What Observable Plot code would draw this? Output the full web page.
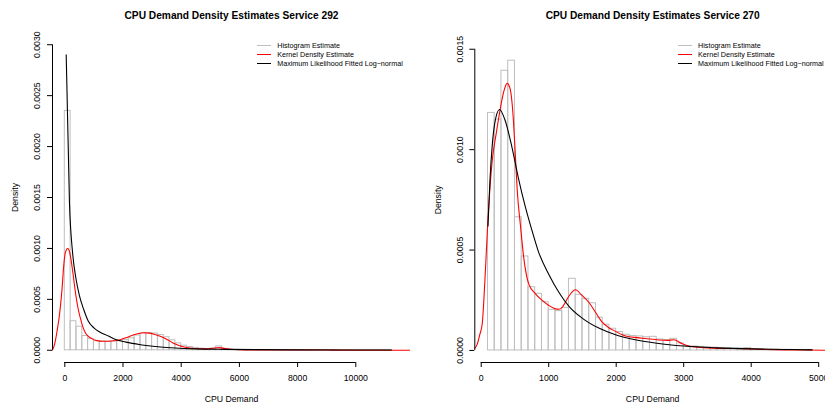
<!DOCTYPE html>
<html><head><meta charset="utf-8">
<script src="https://cdn.jsdelivr.net/npm/d3@7"></script>
<script src="https://cdn.jsdelivr.net/npm/@observablehq/plot@0.6"></script>
<style>
html,body{margin:0;padding:0;background:#fff;overflow:hidden;}
#wrap{position:relative;width:825px;height:405px;overflow:hidden;font-family:"Liberation Sans",Arial,Helvetica,sans-serif;}
.panel{position:absolute;top:0;}
.panel svg{max-width:none !important;}
.legend{position:absolute;font-size:7.2px;color:#000;white-space:nowrap;}
.legend .row{display:flex;align-items:center;height:9px;}
.legend .sw{display:inline-block;width:14px;height:0;border-top:1px solid;margin-right:6.5px;}
</style></head><body><div id="wrap"></div>
<script>
// ---------- Legend ----------
const legendLabels = ["Histogram Estimate", "Kernel Density Estimate", "Maximum Likelihood Fitted Log\u2212normal"];
const legendColors = ["#bebebe", "#ff0000", "#000000"];

// ---------- Service 292 (left) ----------
const title292 = "CPU Demand Density Estimates Service 292";
const hist292Start = 0;
const hist292Width = 200;
const hist292Density = [
  0.00235, 0.000285, 0.000232, 0.000140, 0.000112, 0.000092, 0.000086, 0.000084, 0.000086, 0.000090,
  0.000100, 0.000118, 0.000145, 0.000165, 0.000170, 0.000165, 0.000150, 0.000128, 0.000098, 0.000068,
  0.000045, 0.000032, 0.000024, 0.000016, 0.000012, 0.000018, 0.000038, 0.000014, 0.000006, 0.000004,
  0.000003, 0.000003, 0.000003, 0.000002, 0.000002, 0.000003, 0.000002, 0.000002, 0.000002, 0.000001,
  0.000002, 0.000001, 0.000001, 0.000002, 0.000001, 0.000001, 0.000001, 0.000001, 0.000002, 0.000001,
  0.000001, 0.000001, 0.000001, 0.000001, 0.000001, 0.000001
];
const kde292X = [-430, -370, -320, -260, -200, -140, -90, -40, 20, 100, 170, 250, 370, 450, 540, 620, 710, 800, 940, 1100,
  1300, 1500, 1700, 1900, 2100, 2300, 2500, 2700, 2900, 3100, 3300, 3500, 3700, 3900, 4100, 4300, 4600, 4900, 5100, 5300,
  5500, 5800, 6200, 7000, 8000, 9000, 10000, 11000, 11900];
const kde292Y = [0, 0.00004, 0.0001, 0.0002, 0.00031, 0.00046, 0.00062, 0.00082, 0.00096, 0.001, 0.00096, 0.00082, 0.00056, 0.00042, 0.00031, 0.00023, 0.00017, 0.00014, 0.000112, 0.000095,
  0.000088, 0.000089, 0.000094, 0.000104, 0.000122, 0.000145, 0.000162, 0.000172, 0.000168, 0.000155, 0.000135, 0.000108, 0.000075, 0.00005, 0.000032, 0.000022, 0.000015, 0.000014, 0.00002, 0.000026,
  0.000018, 0.000007, 0.000003, 0.000002, 0.000002, 0.000002, 0.000001, 0.000001, 0.0000005];
const ln292X = [48, 160, 270, 380, 500, 650, 800, 1000, 1200, 1500, 1700, 2100, 2600, 3200, 3800, 4500, 5500, 6500, 8000, 9500, 11230];
const ln292Y = [0.0029, 0.00145, 0.00095, 0.00071, 0.00054, 0.0004, 0.00029, 0.00022, 0.00018, 0.00014, 0.00011, 0.00008, 0.000055, 0.000035, 0.000022, 0.000014, 0.000009, 0.000006, 0.000004, 0.000003, 0.000002];
const xTicks292 = [0, 2000, 4000, 6000, 8000, 10000];
const yTicks292 = [0, 0.0005, 0.001, 0.0015, 0.002, 0.0025, 0.003];

// ---------- Service 270 (right) ----------
const title270 = "CPU Demand Density Estimates Service 270";
const hist270Start = 100;
const hist270Width = 100;
const hist270Density = [
  0.001183, 0.00115, 0.001393, 0.001443, 0.000663, 0.000468, 0.000315, 0.000282, 0.00024, 0.000202,
  0.000196, 0.000212, 0.000357, 0.000277, 0.000257, 0.000235, 0.000163, 0.000128, 0.000108, 0.000092,
  0.000078, 0.000072, 0.00007, 0.000066, 0.000068, 0.000055, 0.000052, 0.000058, 0.000035, 0.000022,
  0.00002, 0.000018, 0.000016, 0.000014, 0.000012, 0.000012, 0.00001, 0.00001, 0.000012, 0.000006,
  0.000005, 0.000004, 0.000004, 0.000003, 0.000003, 0.000002, 0.000002, 0.000002
];
const kde270X = [-95, -60, -20, 15, 55, 98, 163, 222, 286, 335, 385, 430, 470, 500, 533, 582, 631, 705, 804, 904,
  1002, 1101, 1150, 1200, 1298, 1397, 1492, 1594, 1693, 1793, 1891, 1990, 2089, 2188, 2311, 2459, 2607, 2756, 2854, 2978,
  3101, 3300, 3600, 3900, 4200, 4500, 4800, 5200];
const kde270Y = [0.00001, 0.00003, 0.00008, 0.000133, 0.00035, 0.00064, 0.000945, 0.00108, 0.00121, 0.00129, 0.00133, 0.0013, 0.00118, 0.00101, 0.0008, 0.00062, 0.00046, 0.00033, 0.000282, 0.000249,
  0.000224, 0.000207, 0.000205, 0.000215, 0.00027, 0.000302, 0.000274, 0.00024, 0.00019, 0.000141, 0.000113, 0.000095, 0.000078, 0.000068, 0.000064, 0.000058, 0.000053, 0.00005, 0.000053, 0.000033,
  0.00002, 0.000014, 0.00001, 0.000009, 0.000005, 0.000003, 0.000002, 0.000001];
const ln270X = [100, 130, 163, 200, 271, 350, 450, 550, 650, 750, 850, 1000, 1150, 1300, 1500, 1750, 2000, 2300, 2600, 3000, 3500, 4000, 4500, 4904];
const ln270Y = [0.00062, 0.00085, 0.00102, 0.00113, 0.0012, 0.00115, 0.00102, 0.00086, 0.00072, 0.0006, 0.00049, 0.00038, 0.00029, 0.00022, 0.00016, 0.00011, 0.000077, 0.000052, 0.000036, 0.000022, 0.000013, 0.000008, 0.000005, 0.000003];
const xTicks270 = [0, 1000, 2000, 3000, 4000, 5000];
const yTicks270 = [0, 0.0005, 0.001, 0.0015];

const xLabel = "CPU Demand";
const yLabel = "Density";

const FONT = '"Liberation Sans", Arial, Helvetica, sans-serif';

function makePanel(cfg) {
  const hist = cfg.histDensity.map((d, i) => ({
    x1: cfg.histStart + i * cfg.binWidth,
    x2: cfg.histStart + (i + 1) * cfg.binWidth,
    d
  }));
  const kde = cfg.kdeX.map((x, i) => ({x, y: cfg.kdeY[i]}));
  const ln = cfg.lnX.map((x, i) => ({x, y: cfg.lnY[i]}));
  const fmtY = d3.format(".4f");
  return Plot.plot({
    width: cfg.width,
    height: 405,
    marginLeft: cfg.mL,
    marginRight: cfg.mR,
    marginTop: cfg.mT,
    marginBottom: 43,
    style: {fontFamily: FONT, fontSize: "8.7px", background: "transparent", color: "#000", maxWidth: "none"},
    x: {domain: cfg.xDomain, axis: null, label: null},
    y: {domain: cfg.yDomain, axis: null, label: null},
    marks: [
      Plot.rect(hist, {x1: "x1", x2: "x2", y1: 0, y2: "d", fill: "none", stroke: "#bebebe", strokeWidth: 1, inset: 0, clip: true}),
      Plot.line(kde, {x: "x", y: "y", stroke: "#ff0000", strokeWidth: 1.1, curve: "monotone-x", clip: true}),
      Plot.line(ln, {x: "x", y: "y", stroke: "#000000", strokeWidth: 1.1, curve: "monotone-x", clip: true}),
      // x axis
      Plot.ruleY([cfg.yDomain[0]], {x1: d3.min(cfg.xTicks), x2: d3.max(cfg.xTicks), stroke: "#000"}),
      Plot.axisX({ticks: cfg.xTicks, tickSize: 5, tickPadding: 7, tickFormat: d3.format("d"), label: null, stroke: "#000", fill: "#000"}),
      // y axis
      Plot.ruleX([cfg.xDomain[0]], {y1: d3.min(cfg.yTicks), y2: d3.max(cfg.yTicks), stroke: "#000"}),
      Plot.axisY({ticks: cfg.yTicks, tickSize: 5, tickFormat: () => "", label: null, stroke: "#000"}),
      Plot.text(cfg.yTicks, {y: (d) => d, frameAnchor: "left", dx: -15, rotate: -90, text: fmtY, textAnchor: "middle", lineAnchor: "middle", fill: "#000"}),
      // titles
      Plot.text([cfg.title], {frameAnchor: "top", dy: cfg.titleDy, text: (d) => d, fontWeight: "bold", fontSize: 10.2, lineAnchor: "middle", fill: "#000"}),
      Plot.text([xLabel], {frameAnchor: "bottom", dy: 37, text: (d) => d, lineAnchor: "middle", fill: "#000"}),
      Plot.text([yLabel], {frameAnchor: "left", dx: -37, rotate: -90, text: (d) => d, lineAnchor: "middle", textAnchor: "middle", fill: "#000"})
    ]
  });
}

function makeLegend(left, top) {
  const div = document.createElement("div");
  div.className = "legend";
  div.style.left = left + "px";
  div.style.top = top + "px";
  legendLabels.forEach((lab, i) => {
    const row = document.createElement("div");
    row.className = "row";
    const sw = document.createElement("span");
    sw.className = "sw";
    sw.style.borderTopColor = legendColors[i];
    row.appendChild(sw);
    row.appendChild(document.createTextNode(lab));
    div.appendChild(row);
  });
  return div;
}

const wrap = document.getElementById("wrap");

const left = makePanel({
  title: title292, histStart: hist292Start, binWidth: hist292Width, histDensity: hist292Density,
  kdeX: kde292X, kdeY: kde292Y, lnX: ln292X, lnY: ln292Y,
  xTicks: xTicks292, yTicks: yTicks292,
  width: 412, mL: 52, mR: 2, mT: 32,
  xDomain: [-422.7, 11880], yDomain: [-0.00012, 0.00312],
  titleDy: -16.5
});
const p1 = document.createElement("div");
p1.className = "panel"; p1.style.left = "0px"; p1.style.width = "412px";
p1.appendChild(left);
wrap.appendChild(p1);

const right = makePanel({
  title: title270, histStart: hist270Start, binWidth: hist270Width, histDensity: hist270Density,
  kdeX: kde270X, kdeY: kde270Y, lnX: ln270X, lnY: ln270Y,
  xTicks: xTicks270, yTicks: yTicks270,
  width: 420, mL: 62.3, mR: 2, mT: 36.7,
  xDomain: [-95, 5175], yDomain: [-0.00006, 0.00156],
  titleDy: -21
});
const p2 = document.createElement("div");
p2.className = "panel"; p2.style.left = "412px"; p2.style.width = "420px";
p2.appendChild(right);
wrap.appendChild(p2);

wrap.appendChild(makeLegend(256.7, 40.8));
wrap.appendChild(makeLegend(677.5, 40.8));
</script>
</body></html>
